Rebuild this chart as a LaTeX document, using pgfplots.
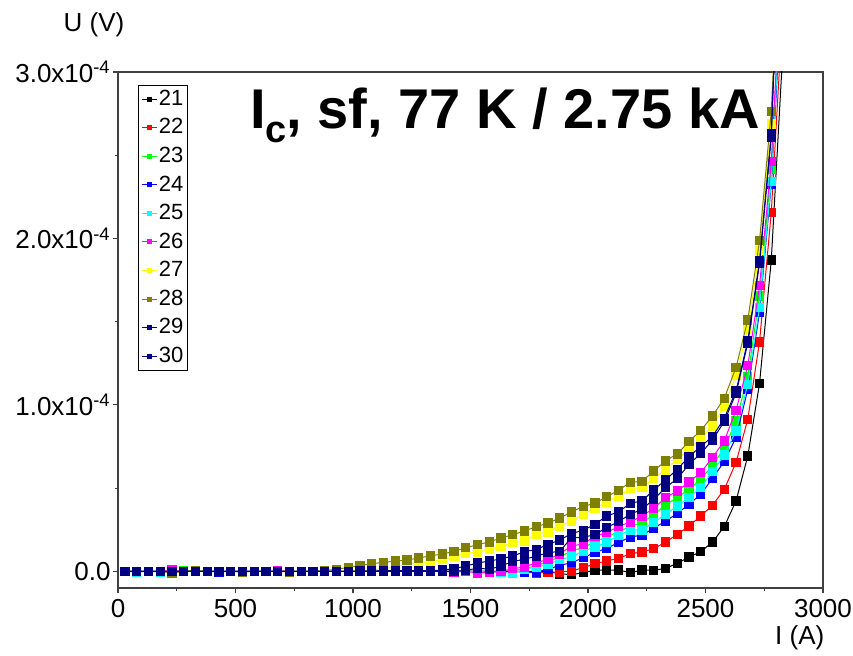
\documentclass[border=0pt]{standalone}
\usepackage{fontspec}
\setmainfont{Liberation Sans}
\usepackage{pgfplots}
\usepackage{pgfplotstable}
\pgfplotsset{compat=1.18}
\definecolor{olivec}{RGB}{128,128,0}
\definecolor{navyc}{RGB}{0,0,128}
\definecolor{greenc}{RGB}{0,255,0}
\definecolor{cyanc}{RGB}{0,255,255}
\definecolor{magc}{RGB}{255,0,255}
\definecolor{yelc}{RGB}{255,255,0}
\pgfplotstableread{
X b21 r22 g23 bl24 c25 m26 y27 o28 n29 n30
30 0 0 0 0 0 0 0 0 0 0
80 0 0 0 0 -0.005 0 0 0 0 0
130 0 0 0 0 0 0 0 0 0 0
180 0 0 0 0 -0.005 0 0 0 0 0
230 0 0 0 0 0 0.008 0 -0.012 0 0
280 0 0 0.005 0 0 0 0 0 0 0
330 0 0 0 0 0 0 0 0.005 0 0
380 0 0 0 0 0 0 0 0 0 0
430 0 0 0 -0.004 0 0 0 0 0 0
480 0 0 0 0 0 0 0 0 0 0
530 0 0 0 0 0 0 0 -0.005 0 0
580 0 0 0 0 0 0 0 0 0 0
630 0 0 0 0 0 0 0 0 0 0
680 0 0 0 0 0 0.004 0 0 0 0
730 0 0 0 0 0 0 0 -0.004 0 0
780 0 0 0 0 0 0 0 0 0 0
830 0 0 0 0 0 0 0 0 0 0
880 0 0 0 0 0 0 0 0.005 0 0
930 0 0 0 0 0 0 0 0.012 0 0
980 0 0 0 0 0 0 0.002 0.024 0 0
1030 0 0 0 0 0 0 0.005 0.036 0.003 0
1080 0 0 0 0 0 0 0.010 0.046 0.003 0
1130 0 0 0 0 0 0 0.016 0.054 0.004 0
1180 0 0 0 0 0 0 0.026 0.062 0.004 0
1230 0 0 0 0 0 0 0.042 0.068 0.004 0
1280 0 0 0 0 0 0 0.052 0.080 0.004 0
1330 0 0 0 0 0 0 0.058 0.093 0.004 0
1380 0 0 0 0 0 0 0.070 0.104 0.008 0
1430 0 0 0 0 0 -0.005 0.090 0.120 0.016 0
1480 0 0 0 0 0 0 0.108 0.142 0.032 0.005
1530 0 0 0 0 0 -0.01 0.115 0.160 0.050 0.020
1580 0 0 0 0 -0.005 -0.005 0.132 0.177 0.062 0.012
1630 -0.005 0 0 0 -0.006 0 0.148 0.200 0.075 0.032
1680 0 0 0.005 0 -0.012 0.016 0.172 0.220 0.092 0.060
1730 0 0 0.015 -0.005 0.012 0.026 0.182 0.243 0.118 0.072
1780 0 -0.01 0.035 -0.004 0.026 0.052 0.222 0.268 0.132 0.092
1830 0 -0.005 0.060 0.012 0.042 0.072 0.236 0.290 0.162 0.112
1880 -0.015 -0.004 0.085 0.036 0.070 0.105 0.272 0.320 0.188 0.120
1930 -0.02 0.002 0.125 0.052 0.088 0.152 0.302 0.357 0.227 0.203
1980 -0.008 0.022 0.140 0.082 0.122 0.165 0.343 0.390 0.247 0.203
2030 0.008 0.046 0.180 0.114 0.146 0.212 0.377 0.410 0.283 0.222
2080 0.006 0.062 0.205 0.138 0.176 0.233 0.417 0.449 0.333 0.263
2130 0.008 0.078 0.240 0.173 0.216 0.269 0.453 0.487 0.357 0.299
2180 -0.008 0.106 0.268 0.206 0.249 0.297 0.497 0.535 0.409 0.343
2230 0.008 0.116 0.293 0.218 0.249 0.333 0.503 0.541 0.423 0.373
2280 0.006 0.136 0.340 0.259 0.293 0.379 0.559 0.603 0.489 0.433
2330 0.018 0.176 0.399 0.302 0.343 0.443 0.609 0.663 0.549 0.503
2380 0.048 0.222 0.443 0.347 0.393 0.483 0.673 0.706 0.613 0.557
2430 0.086 0.272 0.493 0.403 0.443 0.537 0.733 0.780 0.690 0.643
2480 0.118 0.333 0.553 0.463 0.503 0.593 0.798 0.846 0.750 0.708
2530 0.176 0.397 0.637 0.559 0.600 0.684 0.874 0.934 0.810 0.790
2580 0.269 0.493 0.740 0.660 0.700 0.784 0.994 1.040 0.920 0.900
2630 0.423 0.654 0.904 0.804 0.844 0.968 1.175 1.225 1.084 1.070
2680 0.693 0.914 1.170 1.094 1.124 1.235 1.455 1.511 1.385 1.370
2730 1.129 1.379 1.655 1.556 1.586 1.716 1.926 1.986 1.866 1.850
2780 1.870 2.157 2.417 2.327 2.343 2.461 2.688 2.764 2.628 2.610
2830 3.15 3.40 3.74 3.62 3.71 3.81 4.42 4.24 4.49 4.40
}\data
\begin{document}
\begin{tikzpicture}
\begin{axis}[
  scale only axis,
  width=352.5pt, height=258pt,
  at={(0,0)}, anchor=south west,
  xmin=0, xmax=3000, ymin=-0.1, ymax=3.0,
  xtick={0,500,1000,1500,2000,2500,3000},
  xticklabels={0,500,1000,1500,2000,2500,3000},
  ytick={0,1,2,3},
  yticklabels={0.0,1.0x10\textsuperscript{-4},2.0x10\textsuperscript{-4},3.0x10\textsuperscript{-4}},
  minor x tick num=1, minor y tick num=1,
  xtick pos=left, ytick pos=left,
  tick align=outside, major tick length=2.5pt, minor tick length=1.5pt,
  tick style={black!75, line width=0.6pt},
  axis line style={black!75, line width=0.7pt},
  tick label style={font=\fontsize{13}{15}\selectfont},
  yticklabel style={anchor=east, inner sep=0pt, xshift=-1pt},
  xticklabel style={anchor=north, inner sep=0pt, yshift=-3pt},
  xlabel={I (A)}, ylabel={U (V)},
  every axis x label/.style={at={(rel axis cs:0.967,-0.097)}, anchor=center, font=\fontsize{13}{15}\selectfont},
  every axis y label/.style={at={(rel axis cs:-0.034,1.091)}, anchor=center, rotate=0, font=\fontsize{13}{15}\selectfont},
  clip marker paths=true,
  every axis plot/.append style={line width=0.5pt, mark=square*, mark size=2.1pt, mark options={solid}},
  legend image code/.code={\draw[mark repeat=2, mark phase=2, mark size=1pt] plot coordinates {(0pt,0pt) (3.75pt,0pt) (7.5pt,0pt)};},
  legend style={at={(0.028,0.975)}, anchor=north west, draw=black, line width=0.5pt,
    font=\fontsize{11}{12}\selectfont, row sep=3.5pt, inner sep=1.5pt,
    nodes={inner sep=0.8pt}, cells={anchor=west}},
]
\addplot[color=black] table[x=X, y=b21] {\data};
\addplot[color=red] table[x=X, y=r22] {\data};
\addplot[color=greenc] table[x=X, y=g23] {\data};
\addplot[color=blue] table[x=X, y=bl24] {\data};
\addplot[color=cyanc] table[x=X, y=c25] {\data};
\addplot[color=magc] table[x=X, y=m26] {\data};
\addplot[color=yelc] table[x=X, y=y27] {\data};
\addplot[color=olivec] table[x=X, y=o28] {\data};
\addplot[color=navyc] table[x=X, y=n29] {\data};
\addplot[color=navyc] table[x=X, y=n30] {\data};
\legend{21,22,23,24,25,26,27,28,29,30}
\node[anchor=north east, inner sep=0pt, font=\bfseries\fontsize{28}{30}\selectfont] at (rel axis cs:0.911,0.969) {I\raisebox{-7pt}{\fontsize{19}{19}\selectfont c}, sf, 77 K / 2.75 kA};
\end{axis}
\pgfresetboundingbox
\useasboundingbox (-59pt,-34pt) rectangle (367.5pt,294pt);
\end{tikzpicture}
\end{document}
